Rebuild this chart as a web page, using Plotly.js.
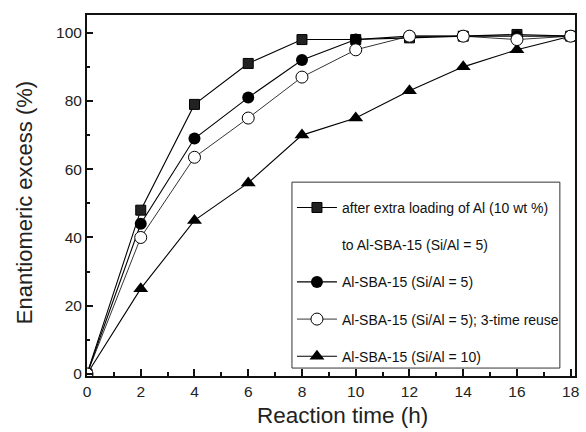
<!DOCTYPE html>
<html>
<head>
<meta charset="utf-8">
<script src="https://cdn.plot.ly/plotly-3.0.1.min.js"></script>
<style>html,body{margin:0;padding:0;background:#fff;}#chart{width:586px;height:432px;}</style>
</head>
<body>
<div id="chart"></div>
<script>
const time = [0, 2, 4, 6, 8, 10, 12, 14, 16, 18];
const extraAl = [0, 48, 79, 91, 98, 98, 98.5, 99, 99.5, 99];
const siAl5 = [0, 44, 69, 81, 92, 98, 99, 99, 99, 99];
const siAl5Reuse = [0, 40, 63.5, 75, 87, 95, 99, 99, 98, 99];
const siAl10 = [0, 25, 45, 56, 70, 75, 83, 90, 95, 99];
const names = [
  'after extra loading of Al (10 wt %)',
  'to Al-SBA-15 (Si/Al = 5)',
  'Al-SBA-15 (Si/Al = 5)',
  'Al-SBA-15 (Si/Al = 5); 3-time reuse',
  'Al-SBA-15 (Si/Al = 10)'
];
const xTicks = [0, 2, 4, 6, 8, 10, 12, 14, 16, 18];
const yTicks = [0, 20, 40, 60, 80, 100];
const xTitle = 'Reaction time (h)';
const yTitle = 'Enantiomeric excess (%)';

const FONT = 'Liberation Sans, Arial, sans-serif';
const lineStyle = {color: '#000', width: 1.1};

const traces = [
  {x: time, y: siAl10, name: names[4], mode: 'lines+markers', line: lineStyle,
   marker: {symbol: 'triangle-up', size: 13, color: '#000'}, legendrank: 5, legendgroup: 'e'},
  {x: time, y: extraAl, name: names[0], mode: 'lines+markers', line: lineStyle,
   marker: {symbol: 'square', size: 10, color: '#222', line: {color: '#000', width: 1}}, legendrank: 1, legendgroup: 'a'},
  {x: [null], y: [null], name: names[1], mode: 'lines', line: {color: 'rgba(0,0,0,0)', width: 0},
   legendrank: 2, legendgroup: 'b', showlegend: true},
  {x: time, y: siAl5, name: names[2], mode: 'lines+markers', line: lineStyle,
   marker: {symbol: 'circle', size: 12, color: '#000'}, legendrank: 3, legendgroup: 'c'},
  {x: time, y: siAl5Reuse, name: names[3], mode: 'lines+markers', line: {color: '#000', width: 0.8},
   marker: {symbol: 'circle', size: 12, color: '#fff', line: {color: '#000', width: 1}}, legendrank: 4, legendgroup: 'd'}
];

const xr = [0, 18.16];
const yr = [-0.6, 105.2];

const layout = {
  width: 586, height: 432,
  margin: {l: 87, r: 11, t: 15, b: 56},
  paper_bgcolor: '#fff', plot_bgcolor: '#fff',
  font: {family: FONT, color: '#222', size: 15},
  showlegend: true,
  legend: {
    x: 0.42, y: 0.51, xanchor: 'left', yanchor: 'top',
    bgcolor: 'rgba(0,0,0,0)', borderwidth: 0,
    font: {family: FONT, size: 14, color: '#111'},
    traceorder: 'grouped', tracegroupgap: 16, itemwidth: 40
  },
  shapes: [{
    type: 'rect', xref: 'paper', yref: 'paper', x0: 0.42, x1: 0.969, y0: 0.022, y1: 0.537,
    line: {color: '#333', width: 1}, fillcolor: '#fff', layer: 'below'
  }],
  annotations: [
    {text: xTitle, xref: 'paper', yref: 'paper', x: 0.523, y: -0.11, xanchor: 'center', yanchor: 'middle',
     showarrow: false, font: {size: 22.5, color: '#222'}},
    {text: yTitle, xref: 'paper', yref: 'paper', x: -0.129, y: 0.479, xanchor: 'center', yanchor: 'middle',
     textangle: -90, showarrow: false, font: {size: 22, color: '#222'}}
  ],
  xaxis: {
    range: xr, tickmode: 'array', tickvals: xTicks, ticktext: xTicks.map(String),
    ticks: 'inside', ticklen: 7, tickwidth: 2, tickcolor: '#111',
    minor: {dtick: 1, tick0: 0, ticks: 'inside', ticklen: 4, tickwidth: 2, tickcolor: '#111'},
    showline: true, linecolor: '#111', linewidth: 2, mirror: true,
    showgrid: false, zeroline: false,
    ticklabelstandoff: 0,
    tickfont: {size: 15.5, color: '#222'}
  },
  yaxis: {
    range: yr, tickmode: 'array', tickvals: yTicks, ticktext: yTicks.map(String),
    ticks: 'inside', ticklen: 6, tickwidth: 2, tickcolor: '#111',
    minor: {dtick: 10, tick0: 0, ticks: 'inside', ticklen: 3, tickwidth: 2, tickcolor: '#111'},
    showline: true, linecolor: '#111', linewidth: 2, mirror: true,
    showgrid: false, zeroline: false,
    ticklabelstandoff: 0,
    tickfont: {size: 15.5, color: '#222'}
  },
  xaxis2: {
    overlaying: 'x', side: 'top', anchor: 'y', range: xr, dtick: 1, tick0: 0,
    ticks: 'inside', ticklen: 3, tickwidth: 2, tickcolor: '#111',
    showticklabels: false, showline: false, showgrid: false, zeroline: false
  },
  yaxis2: {
    overlaying: 'y', side: 'right', anchor: 'x', range: yr, dtick: 10, tick0: 0,
    ticks: 'inside', ticklen: 3, tickwidth: 2, tickcolor: '#111',
    showticklabels: false, showline: false, showgrid: false, zeroline: false
  }
};

Plotly.newPlot('chart', traces, layout, {staticPlot: true, displayModeBar: false});
</script>
</body>
</html>
